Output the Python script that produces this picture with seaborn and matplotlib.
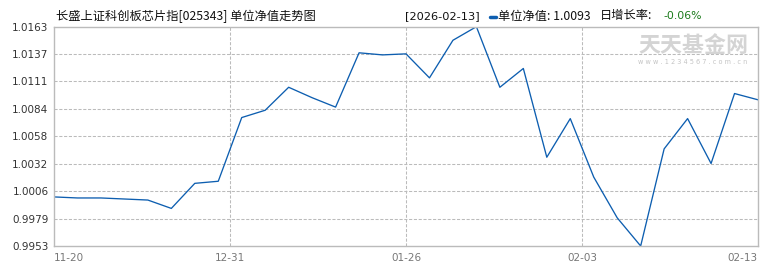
import matplotlib
matplotlib.use("Agg")
import matplotlib.pyplot as plt
import seaborn as sns
import pandas as pd
import numpy as np

# ---- data ----
nav_values = [1.0000, 0.9999, 0.9999, 0.9998, 0.9997, 0.9989, 1.0013, 1.0015,
              1.0076, 1.0083, 1.0105, 1.0095, 1.0086, 1.0138, 1.0136, 1.0137,
              1.0114, 1.0150, 1.0163, 1.0105, 1.0123, 1.0038, 1.0075, 1.0019,
              0.9980, 0.9953, 1.0046, 1.0075, 1.0032, 1.0099, 1.0093]
x_tick_pos = [0, 7.5, 15, 22.5, 30]
x_tick_labels = ["11-20", "12-31", "01-26", "02-03", "02-13"]
y_ticks = [0.9953, 0.9979, 1.0006, 1.0032, 1.0058, 1.0084, 1.0111, 1.0137, 1.0163]
title_text = "长盛上证科创板芯片指[025343] 单位净值走势图"
date_text = "[2026-02-13]"
nav_text = "单位净值: 1.0093"
growth_label = "日增长率:"
growth_value = "-0.06%"

df = pd.DataFrame({"idx": np.arange(len(nav_values)), "nav": nav_values})

sns.set_theme(style="white")
plt.rcParams['font.family'] = ['Noto Sans CJK SC', 'DejaVu Sans']

W, H = 770, 270
fig = plt.figure(figsize=(W / 100, H / 100), dpi=100)
left, right, top, bottom = 54, 758, 26.7, 246
ax = fig.add_axes([left / W, 1 - bottom / H, (right - left) / W, (bottom - top) / H])

sns.lineplot(data=df, x="idx", y="nav", ax=ax, color="#0d5eb0", linewidth=0.95)

ax.set_xlim(0, len(nav_values) - 1)
ax.set_ylim(min(y_ticks), max(y_ticks))
ax.set_xlabel("")
ax.set_ylabel("")

grid_kw = dict(color="#bbbbbb", linewidth=0.75, linestyle=(0, (3, 1.6)))
for yv in y_ticks[1:-1]:
    ax.axhline(yv, **grid_kw, zorder=0)
for xv in x_tick_pos[1:-1]:
    ax.axvline(xv, **grid_kw, zorder=0)

for s in ax.spines.values():
    s.set_color("#bbbbbb")
    s.set_linewidth(1.0)

ax.set_yticks(y_ticks)
ax.set_yticklabels([f"{v:.4f}" for v in y_ticks], fontsize=7.5, color="#333333",
                   family=['DejaVu Sans'])
ax.set_xticks(x_tick_pos)
ax.set_xticklabels(x_tick_labels, fontsize=7.5, color="#777777", family=['DejaVu Sans'])
labels = ax.get_xticklabels()
labels[0].set_horizontalalignment("left")
labels[-1].set_horizontalalignment("right")
ax.tick_params(axis="y", length=0, pad=4)
ax.tick_params(axis="x", length=0, pad=5)

# header texts
fig.text(56 / W, 1 - 16 / H, title_text, fontsize=8.8, color="#111111", va="center", ha="left")
fig.text(405 / W, 1 - 16 / H, date_text, fontsize=8.2, color="#111111", va="center", ha="left",
         family=['DejaVu Sans'])
fig.lines.append(plt.Line2D([490 / W, 496 / W], [1 - 16.5 / H, 1 - 16.5 / H],
                            transform=fig.transFigure, color="#0d5eb0", linewidth=2.5))
fig.text(498 / W, 1 - 16 / H, nav_text, fontsize=8.8, color="#111111", va="center", ha="left")
fig.text(600 / W, 1 - 16 / H, growth_label, fontsize=8.8, color="#111111", va="center", ha="left")
fig.text(663 / W, 1 - 16 / H, growth_value, fontsize=7.8, color="#1a7a1a", va="center", ha="left",
         family=['DejaVu Sans'])

# watermark
fig.text(693 / W, 1 - 45 / H, "天天基金网", fontsize=15.8, color="#d4d4d4", va="center", ha="center",
         fontweight="bold", zorder=0)
fig.text(693 / W, 1 - 62 / H, "w w w . 1 2 3 4 5 6 7 . c o m . c n", fontsize=4.7, color="#c4c4c4",
         va="center", ha="center", family=['DejaVu Sans'], zorder=0)

fig.savefig("out.png", dpi=100, facecolor="white")
